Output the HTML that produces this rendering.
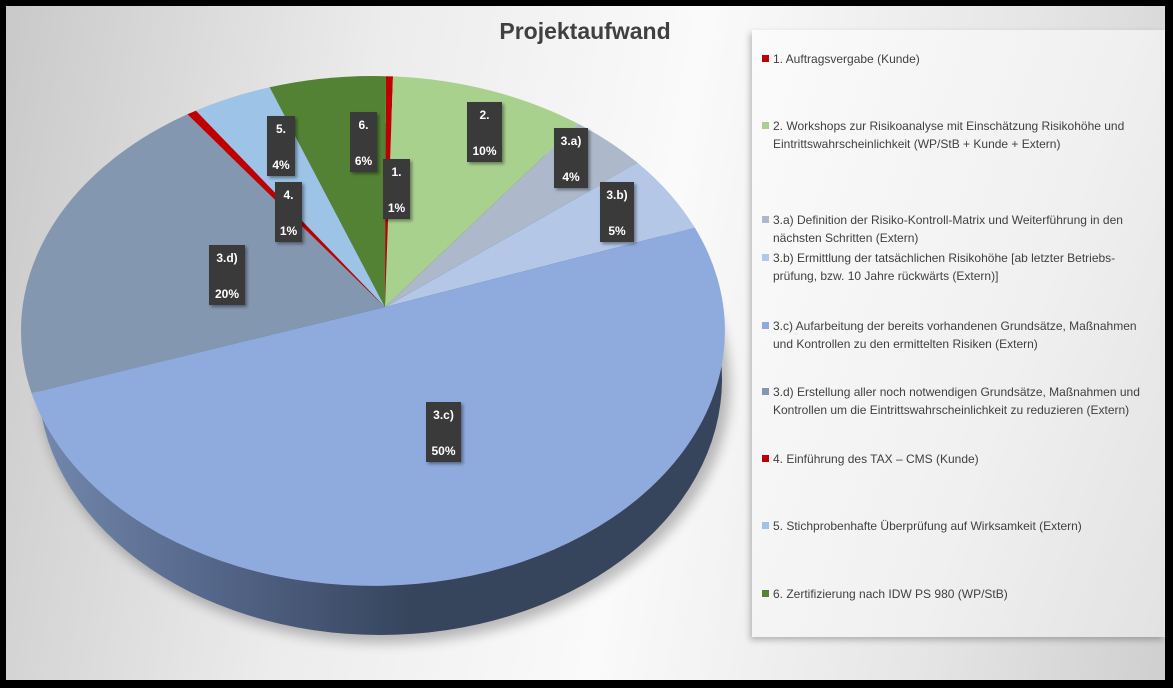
<!DOCTYPE html>
<html><head><meta charset="utf-8">
<style>
html,body{margin:0;padding:0;}
body{width:1173px;height:688px;background:#000;position:relative;overflow:hidden;font-family:"Liberation Sans",sans-serif;}
#bg{position:absolute;left:6px;top:6px;width:1159px;height:674px;background:linear-gradient(100deg,#c9c9c9 0%,#ececec 30%,#fafafa 55%,#e6e6e6 80%,#cfcfcf 100%);}
#title{position:absolute;left:440px;top:18px;width:290px;text-align:center;font-weight:bold;font-size:23px;color:#404040;}
#legend{position:absolute;left:752px;top:30px;width:413px;height:607px;background:linear-gradient(110deg,#fbfbfb 0%,#f0f0f0 60%,#e2e2e2 100%);box-shadow:-2px 3px 6px rgba(0,0,0,0.25);}
.li{position:absolute;left:21px;font-size:12px;line-height:18px;color:#404040;white-space:nowrap;}
.li i{position:absolute;left:-11px;top:5px;width:7px;height:7px;}
.lab{position:absolute;background:#3a3a3a;color:#fff;font-weight:bold;font-size:12px;text-align:center;box-shadow:2px 2px 3px rgba(0,0,0,0.4);}
.lab span{position:absolute;left:0;right:0;}
</style></head><body>
<div id="bg"></div>
<svg id="pie" width="1173" height="688" style="position:absolute;left:0;top:0">
<defs>
<linearGradient id="side" x1="0" x2="1" y1="0" y2="0">
<stop offset="0" stop-color="#7388ad"/><stop offset="0.25" stop-color="#55678a"/><stop offset="0.55" stop-color="#36445c"/><stop offset="1" stop-color="#36445c"/>
</linearGradient>
<filter id="sh" x="-10%" y="-10%" width="120%" height="130%"><feGaussianBlur stdDeviation="6"/></filter>
</defs>
<ellipse cx="385" cy="385" rx="345" ry="258" fill="#000" opacity="0.25" filter="url(#sh)"/>
<ellipse cx="380" cy="379" rx="342" ry="256" fill="url(#side)"/>
<g id="slices"></g>
</svg>
<div id="title">Projektaufwand</div>

<div class="lab" style="left:350px;top:112px;width:27px;height:60px"><span style="top:6px">6.</span><span style="top:42px">6%</span></div>
<div class="lab" style="left:383px;top:159px;width:27px;height:60px"><span style="top:6px">1.</span><span style="top:42px">1%</span></div>
<div class="lab" style="left:467px;top:102px;width:35px;height:60px"><span style="top:6px">2.</span><span style="top:42px">10%</span></div>
<div class="lab" style="left:554px;top:128px;width:34px;height:60px"><span style="top:6px">3.a)</span><span style="top:42px">4%</span></div>
<div class="lab" style="left:600px;top:182px;width:34px;height:60px"><span style="top:6px">3.b)</span><span style="top:42px">5%</span></div>
<div class="lab" style="left:267px;top:116px;width:28px;height:60px"><span style="top:6px">5.</span><span style="top:42px">4%</span></div>
<div class="lab" style="left:275px;top:182px;width:27px;height:60px"><span style="top:6px">4.</span><span style="top:42px">1%</span></div>
<div class="lab" style="left:209px;top:245px;width:36px;height:60px"><span style="top:6px">3.d)</span><span style="top:42px">20%</span></div>
<div class="lab" style="left:426px;top:402px;width:35px;height:60px"><span style="top:6px">3.c)</span><span style="top:42px">50%</span></div>

<div id="legend">
<div class="li" style="top:20px"><i style="background:#c00000"></i>1. Auftragsvergabe (Kunde)</div>
<div class="li" style="top:87px"><i style="background:#a9d18e"></i>2. Workshops zur Risikoanalyse mit Einschätzung Risikohöhe und<br>Eintrittswahrscheinlichkeit (WP/StB + Kunde + Extern)</div>
<div class="li" style="top:181px"><i style="background:#adb9ca"></i>3.a) Definition der Risiko-Kontroll-Matrix und Weiterführung in den<br>nächsten Schritten (Extern)</div>
<div class="li" style="top:219px"><i style="background:#b4c7e7"></i>3.b) Ermittlung der tatsächlichen Risikohöhe [ab letzter Betriebs-<br>prüfung, bzw. 10 Jahre rückwärts (Extern)]</div>
<div class="li" style="top:287px"><i style="background:#8faadc"></i>3.c) Aufarbeitung der bereits vorhandenen Grundsätze, Maßnahmen<br>und Kontrollen zu den ermittelten Risiken (Extern)</div>
<div class="li" style="top:353px"><i style="background:#8497b0"></i>3.d) Erstellung aller noch notwendigen Grundsätze, Maßnahmen und<br>Kontrollen um die Eintrittswahrscheinlichkeit zu reduzieren (Extern)</div>
<div class="li" style="top:420px"><i style="background:#c00000"></i>4. Einführung des TAX – CMS (Kunde)</div>
<div class="li" style="top:487px"><i style="background:#9dc3e6"></i>5. Stichprobenhafte Überprüfung auf Wirksamkeit (Extern)</div>
<div class="li" style="top:555px"><i style="background:#548235"></i>6. Zertifizierung nach IDW PS 980 (WP/StB)</div>
</div>

<script>
var cx=373,cy=331,rx=352,ry=255,ax=385,ay=307;
function ang(p){return Math.atan2((p[1]-cy)/ry,(p[0]-cx)/rx);}
function pt(a){return [cx+rx*Math.cos(a),cy+ry*Math.sin(a)];}
// boundaries clockwise starting at top
var B=[[386,76],[393,76],[578,124],[640,162],[693,228],[22,395],[194,122],[202,118],[272,93],[386,76]];
var cols=["#c00000","#a9d18e","#adb9ca","#b4c7e7","#8faadc","#8497b0","#c00000","#9dc3e6","#548235"];
var g=document.getElementById('slices'),h='';
for(var i=0;i<9;i++){
 var a1=ang(B[i]),a2=ang(B[i+1]);
 var d=a2-a1; while(d<0)d+=2*Math.PI;
 var p1=pt(a1),p2=pt(a1+d);
 var large=d>Math.PI?1:0;
 h+='<path d="M'+ax+' '+ay+' L'+p1[0].toFixed(1)+' '+p1[1].toFixed(1)+' A'+rx+' '+ry+' 0 '+large+' 1 '+p2[0].toFixed(1)+' '+p2[1].toFixed(1)+' Z" fill="'+cols[i]+'"/>';
}
g.innerHTML=h;
</script>
</body></html>
